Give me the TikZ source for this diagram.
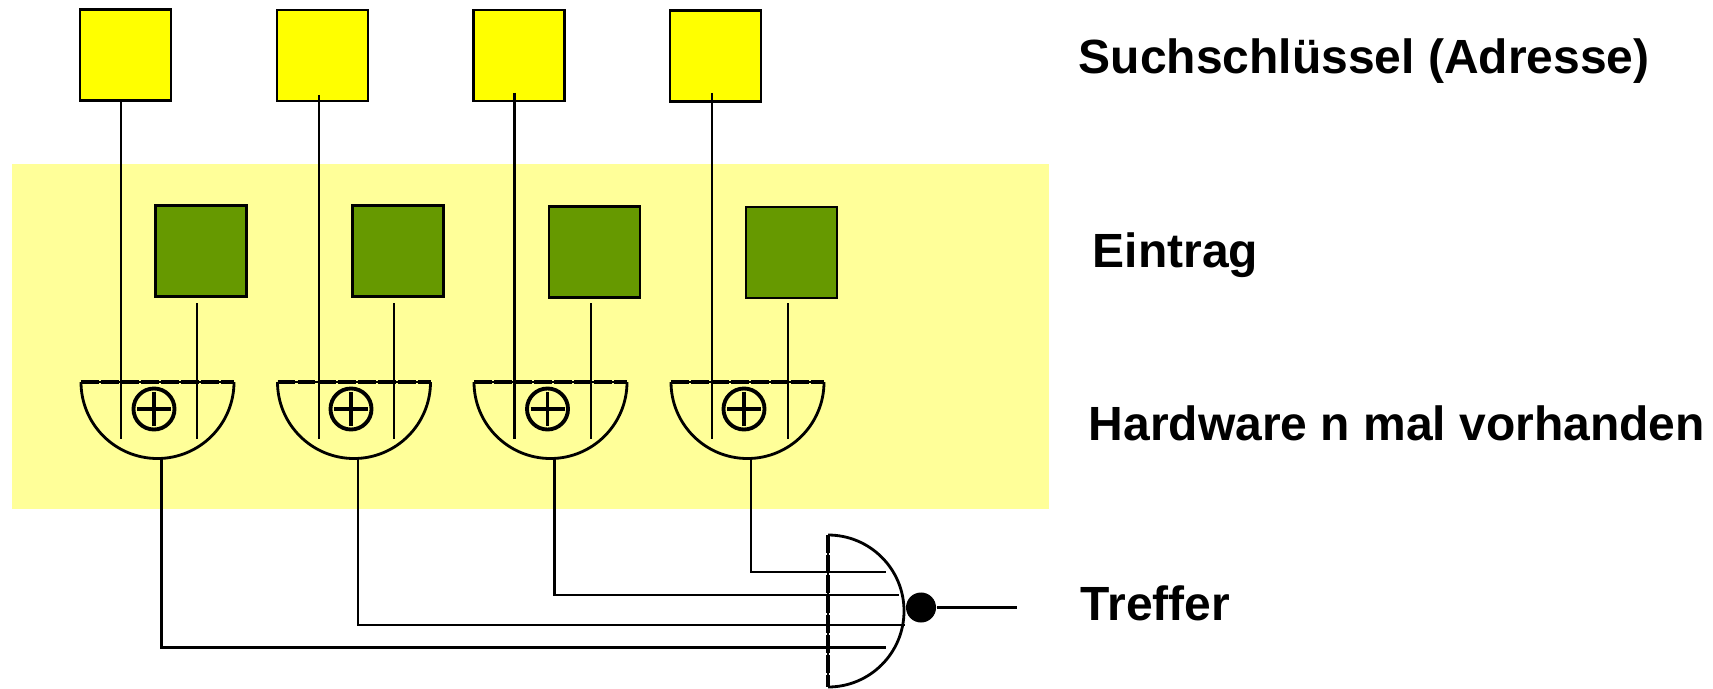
\documentclass[tikz,border=0pt]{standalone}
\usepackage{fontspec}
\setmainfont{Liberation Sans}
\definecolor{keyyellow}{RGB}{255,255,0}
\definecolor{entrygreen}{RGB}{102,153,0}
\definecolor{hwyellow}{RGB}{255,255,153}

\begin{document}
\begin{tikzpicture}[x=0.01cm,y=-0.01cm]
    \tikzstyle{key}=[rectangle,draw=black,line width=0.6pt,fill=keyyellow,minimum size=0.91cm,inner sep=0pt]
    \tikzstyle{entry}=[key,fill=entrygreen];
    \tikzstyle{wire}=[draw=black,line width=0.6pt];
    \tikzstyle{bow}=[draw=black,line width=0.8pt];
    \tikzstyle{bar}=[draw=black,line width=1pt,dash pattern=on 5.1pt off 0.6pt,preaction={draw=black,line width=0.5pt,solid}];
    \tikzstyle{xorsign}=[circle,draw=black,line width=1.1pt,minimum size=0.41cm,inner sep=0pt,
      path picture={\draw[line width=1.1pt] (path picture bounding box.center) +(-17,0) -- +(17,0) +(0,-17) -- +(0,17);}];
    \tikzstyle{caption}=[anchor=west,inner sep=0pt,font=\fontsize{13.65pt}{15pt}\bfseries];

\useasboundingbox (0,0) rectangle (1713,688);
\fill[hwyellow] (12,164) rectangle (1049,509);

% Suchschluessel
\node[key] (k1) at (125.5,55) {};
\node[key] (k2) at (322.5,55.5) {};
\node[key] (k3) at (519,55.5) {};
\node[key] (k4) at (715.5,56) {};

% Eintraege
\node[entry] (e1) at (201,251) {};
\node[entry] (e2) at (398,251) {};
\node[entry] (e3) at (594.5,252) {};
\node[entry] (e4) at (791.5,252.5) {};

% Vergleicher
\coordinate (g1) at (81,382);
\coordinate (g2) at (277.5,382);
\coordinate (g3) at (474,382);
\coordinate (g4) at (671,382);
\coordinate (h1) at (234,382);
\coordinate (h2) at (430.5,382);
\coordinate (h3) at (627,382);
\coordinate (h4) at (824,382);
\draw[bow] (g1) arc[start angle=180,end angle=0,radius=76.5];
\draw[bow] (g2) arc[start angle=180,end angle=0,radius=76.5];
\draw[bow] (g3) arc[start angle=180,end angle=0,radius=76.5];
\draw[bow] (g4) arc[start angle=180,end angle=0,radius=76.5];
\draw[bar] (g1) -- (h1);
\draw[bar] (g2) -- (h2);
\draw[bar] (g3) -- (h3);
\draw[bar] (g4) -- (h4);
\node[xorsign] (x1) at (154,409) {};
\node[xorsign] (x2) at (351,409) {};
\node[xorsign] (x3) at (547.5,409) {};
\node[xorsign] (x4) at (744,409) {};

% Leitungen oben
\coordinate (a1) at (121,100);
\coordinate (a2) at (319,95);
\coordinate (a3) at (514.5,93);
\coordinate (a4) at (712,93);
\coordinate (b1) at (121,439);
\coordinate (b2) at (319,439);
\coordinate (b3) at (514.5,439);
\coordinate (b4) at (712,439);
\draw[wire] (a1) -- (b1);
\draw[wire] (a2) -- (b2);
\draw[wire] (a3) -- (b3);
\draw[wire] (a4) -- (b4);
\coordinate (c1) at (197,303);
\coordinate (c2) at (394,303);
\coordinate (c3) at (591,303);
\coordinate (c4) at (788,303);
\coordinate (d1) at (197,439);
\coordinate (d2) at (394,439);
\coordinate (d3) at (591,439);
\coordinate (d4) at (788,439);
\draw[wire] (c1) -- (d1);
\draw[wire] (c2) -- (d2);
\draw[wire] (c3) -- (d3);
\draw[wire] (c4) -- (d4);

% Treffer-Gatter
\coordinate (t) at (828,535);
\coordinate (u) at (828,687);
\draw[bow] (t) arc[start angle=-90,end angle=90,radius=76];
\draw[bar,line width=1.2pt] (t) -- (u);
\node[circle,fill=black,minimum size=0.30cm,inner sep=0pt] (hit) at (921,607.5) {};
\coordinate (out) at (1017,607.5);
\draw[wire] (hit) -- (out);

\coordinate (o1) at (161.5,459);
\coordinate (o2) at (358,459);
\coordinate (o3) at (554.5,459);
\coordinate (o4) at (751,459);
\coordinate (i1) at (886,647.5);
\coordinate (i2) at (905,625);
\coordinate (i3) at (899,595);
\coordinate (i4) at (886,572);
\draw[wire] (o1) |- (i1);
\draw[wire] (o2) |- (i2);
\draw[wire] (o3) |- (i3);
\draw[wire] (o4) |- (i4);

\node[caption] (s) at (1078,61) {Suchschlüssel (Adresse)};
\node[caption] (l) at (1092,255) {Eintrag};
\node[caption] (m) at (1088,423) {Hardware n mal vorhanden};
\node[caption] (r) at (1080,603.5) {Treffer};
\end{tikzpicture}
\end{document}
